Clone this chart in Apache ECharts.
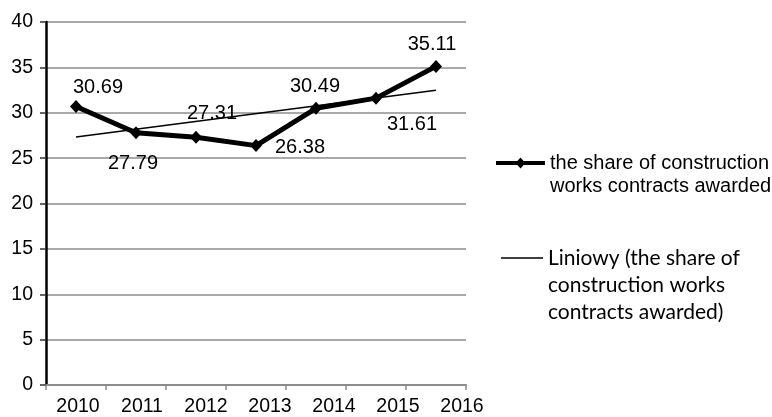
<!DOCTYPE html>
<html>
<head>
<meta charset="utf-8">
<script src="https://cdn.jsdelivr.net/npm/echarts@6/dist/echarts.min.js"></script>
<style>
  html, body { margin: 0; background: #fff; }
  #chart { width: 772px; height: 417px; }
</style>
</head>
<body>
<div id="chart"></div>
<script>
// data
const years = ['2010', '2011', '2012', '2013', '2014', '2015', '2016']
const shareValues = [30.69, 27.79, 27.31, 26.38, 30.49, 31.61, 35.11]
// linear trend: only the two ends are drawn, the gap is bridged
const trendValues = [27.33, null, null, null, null, null, 32.49]
const yMin = 0
const yMax = 40
const yStep = 5

const shareName = 'the share of construction works contracts awarded'
const trendName = 'Liniowy (the share of construction works contracts awarded)'

// where each value label sits relative to its point
const labelOffsets = [[22, -19], [-3, 31], [16, -24], [44, 2], [-1, -22], [36, 26], [-4, -22]]

const arial = '"Liberation Sans"'
const gridGray = '#8c8c8c'

const chart = echarts.init(document.getElementById('chart'))

chart.setOption({
  animation: false,
  grid: [
    { left: 46, top: 22, width: 420, height: 363 },
    // wider twin grid, only used to spread the year labels
    { left: 46, top: 22, width: 448, height: 363 }
  ],
  xAxis: [
    {
      type: 'category',
      gridIndex: 0,
      data: years,
      boundaryGap: true,
      axisLine: { lineStyle: { color: gridGray, width: 2 } },
      axisTick: { show: true, length: 5, lineStyle: { color: gridGray, width: 1.5 } },
      axisLabel: { show: false }
    },
    {
      type: 'category',
      gridIndex: 1,
      data: years,
      boundaryGap: true,
      axisLine: { show: false },
      axisTick: { show: false },
      axisLabel: { margin: 20, color: '#000', fontFamily: arial, fontSize: 19.5, interval: 0 }
    }
  ],
  yAxis: [
    {
      type: 'value',
      gridIndex: 0,
      min: yMin,
      max: yMax,
      interval: yStep,
      axisLine: { show: true, lineStyle: { color: '#000', width: 2.5 } },
      axisTick: { show: true, length: 6, lineStyle: { color: '#333', width: 1.5 } },
      axisLabel: { margin: 13, color: '#000', fontFamily: arial, fontSize: 19.5 },
      splitLine: { lineStyle: { color: gridGray, width: 1.5 } }
    },
    { type: 'value', gridIndex: 1, min: yMin, max: yMax, show: false, splitLine: { show: false } }
  ],
  legend: [
    {
      data: [shareName],
      left: 496,
      top: 128.5,
      padding: 0,
      itemWidth: 49,
      itemHeight: 12,
      icon: 'path://M0,4 L49,4 L49,8 L0,8 Z M24.5,0.5 L29.5,6 L24.5,11.5 L19.5,6 Z',
      selectedMode: false,
      // leading blank line keeps the icon beside the first text line
      formatter: () => '\nthe share of construction\nworks contracts awarded',
      textStyle: { color: '#000', fontFamily: arial, fontSize: 20, lineHeight: 23 }
    },
    {
      data: [trendName],
      left: 501,
      top: 190.5,
      padding: 0,
      itemWidth: 42,
      itemHeight: 2,
      icon: 'path://M0,0 L42,0 L42,1.5 L0,1.5 Z',
      selectedMode: false,
      formatter: () => '\n\nLiniowy (the share of\nconstruction works\ncontracts awarded)',
      textStyle: { color: '#000', fontFamily: 'Lato', fontSize: 21, lineHeight: 27 }
    }
  ],
  series: [
    {
      name: trendName,
      type: 'line',
      xAxisIndex: 0,
      yAxisIndex: 0,
      data: trendValues,
      connectNulls: true,
      symbol: 'none',
      lineStyle: { color: '#000', width: 1.5 },
      itemStyle: { color: '#000' },
      z: 2
    },
    {
      name: shareName,
      type: 'line',
      xAxisIndex: 0,
      yAxisIndex: 0,
      data: shareValues.map((v, i) => ({ value: v, label: { offset: labelOffsets[i] } })),
      symbol: 'diamond',
      symbolSize: [12, 13],
      lineStyle: { color: '#000', width: 5 },
      itemStyle: { color: '#000' },
      label: {
        show: true,
        position: 'inside',
        color: '#000',
        fontFamily: arial,
        fontSize: 20,
        formatter: p => p.value.toFixed(2)
      },
      z: 3
    }
  ]
})
</script>
</body>
</html>
